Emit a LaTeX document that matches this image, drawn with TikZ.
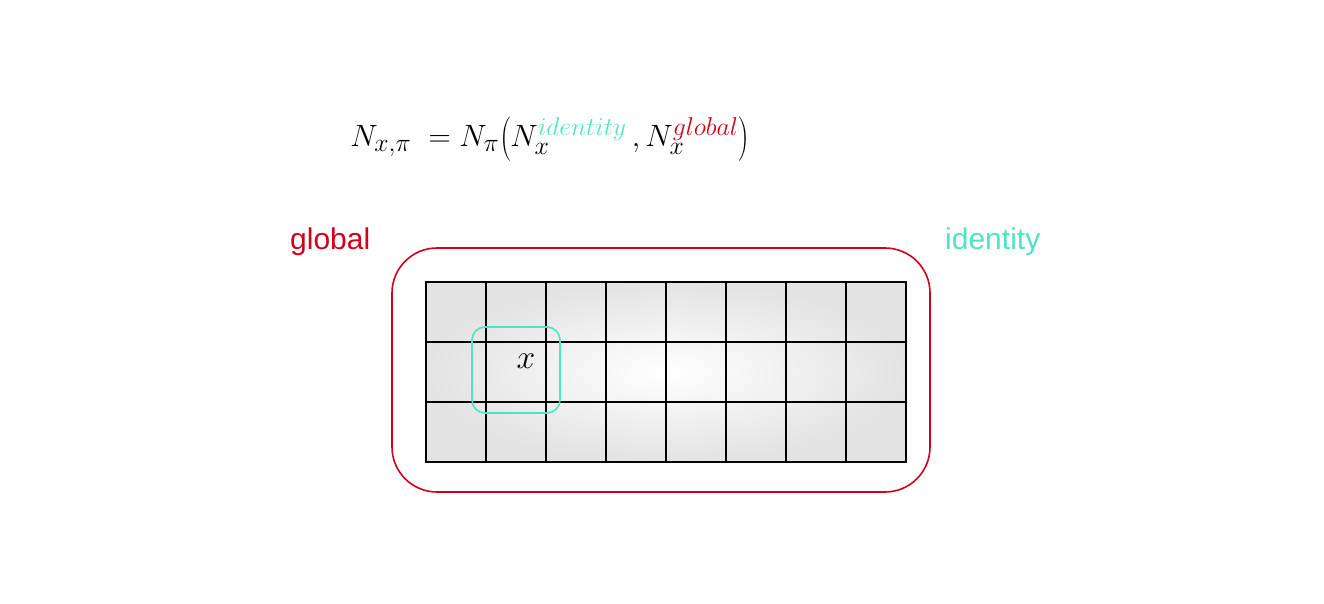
\documentclass[tikz,border=0pt]{standalone}
\usepackage{fontspec}
\usepackage{xcolor}
\setsansfont{Liberation Sans}
\definecolor{gred}{HTML}{D0021B}
\definecolor{gteal}{HTML}{50E3C2}
\begin{document}
\begin{tikzpicture}[x=1pt,y=-1pt,
  label/.style={font=\sffamily\fontsize{30}{36}\selectfont, inner sep=0pt, anchor=base west},
  gridline/.style={draw=black, line width=1.6pt}]
\useasboundingbox (0,0) rectangle (1324,604);
% formula
\node[inner sep=0pt, anchor=base west, scale=1.24] (formula) at (350,147)
  {\fontsize{24.88}{30}\selectfont $N_{x,\pi}\;= N_\pi\!\left(N_x^{\textcolor{gteal}{identity}}\,, N_x^{\textcolor{gred}{global}}\right)$};
% labels
\node[label, text=gred] (lglobal) at (290,249) {global};
\node[label, text=gteal] (lidentity) at (945,249) {identity};
% outer global box
\draw[gred, line width=1.6pt, rounded corners=45pt] (392,248) rectangle (930,492);
% shaded grid
\shade[inner color=white, outer color=black!11] (426,282) rectangle (906,462);
\foreach \i in {0,...,8} {\draw[gridline] (426+60*\i,282) -- (426+60*\i,462);}
\foreach \j in {0,...,3} {\draw[gridline] (425.2,282+60*\j) -- (906.8,282+60*\j);}
% identity box
\draw[gteal, line width=1.6pt, rounded corners=13pt] (472,327) rectangle (560,413);
\node[inner sep=0pt, scale=1.35] (xcell) at (526,361) {\fontsize{24.88}{30}\selectfont $x$};
\end{tikzpicture}
\end{document}
